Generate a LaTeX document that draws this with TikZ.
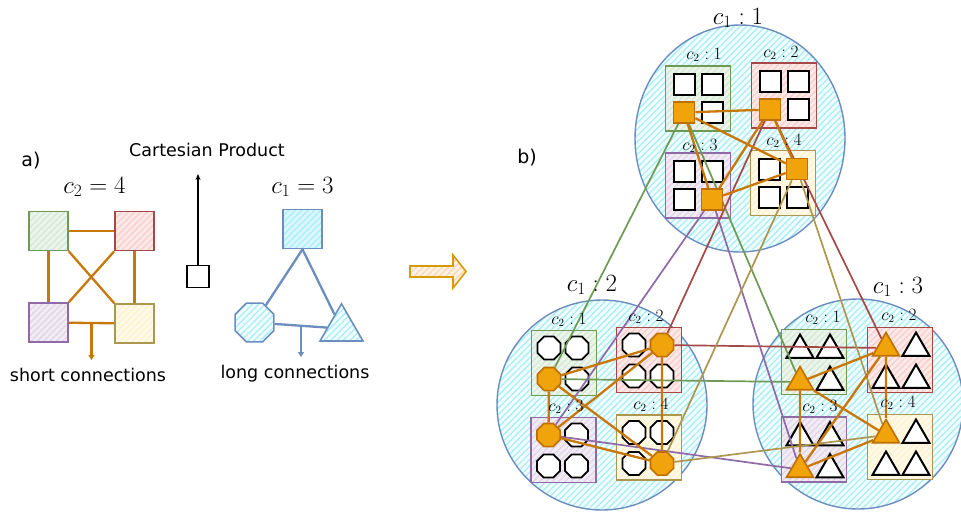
\documentclass[tikz,border=0pt]{standalone}
\usepackage{fontspec}
\newfontfamily\sketch{DejaVu Sans}
\usetikzlibrary{shapes.geometric,patterns.meta,arrows.meta,calc}
\definecolor{gS}{HTML}{6E9A55}\definecolor{gF}{HTML}{D5E8D4}
\definecolor{rS}{HTML}{A64845}\definecolor{rF}{HTML}{F8CECC}
\definecolor{pS}{HTML}{8F6AA6}\definecolor{pF}{HTML}{E1D5E7}
\definecolor{yS}{HTML}{AD9650}\definecolor{yF}{HTML}{FFF2CC}
\definecolor{bS}{HTML}{6C8EBF}\definecolor{cyH}{HTML}{ABEEF8}\definecolor{cyF}{HTML}{F1FDFE}
\definecolor{oF}{HTML}{F0A30A}\definecolor{oS}{HTML}{BD7000}\definecolor{oE}{HTML}{C8780A}
\definecolor{arF}{HTML}{FFE6CC}\definecolor{arS}{HTML}{D79B00}
\pgfdeclarelayer{boxes}\pgfdeclarelayer{edges}\pgfsetlayers{boxes,edges,main}
\tikzset{
  hatch/.style 2 args={preaction={fill=#1}, pattern={Lines[angle=45,distance=4.5pt,line width=1.3pt]}, pattern color=#2},
  bigc/.style={ellipse, draw=bS, line width=1.4pt, hatch={cyF}{cyH}, inner sep=0},
  cbox/.style 2 args={rectangle, draw=#1, line width=1.6pt, hatch={#2!45!white}{#2}, minimum size=65pt, inner sep=0},
  lbox/.style 2 args={rectangle, draw=#1, line width=1.6pt, hatch={#2!45!white}{#2}, minimum size=39pt, inner sep=0},
  wsq/.style={rectangle, draw=black, line width=2pt, fill=white, minimum size=21pt, inner sep=0},
  osq/.style={wsq, draw=oS, fill=oF, line width=1.6pt},
  woct/.style={regular polygon, regular polygon sides=8, draw=black, line width=1.8pt, fill=white, minimum size=25pt, inner sep=0},
  ooct/.style={woct, draw=oS, fill=oF, line width=1.6pt},
  wtri/.style={regular polygon, regular polygon sides=3, draw=black, line width=2pt, fill=white, minimum size=31pt, inner sep=0},
  otri/.style={wtri, draw=oS, fill=oF, line width=1.6pt},
  oedge/.style={draw=oE, line width=2.3pt},
  bedge/.style={draw=bS, line width=2.3pt},
  lline/.style={line width=1.7pt},
  sk/.style={font=\sketch\fontsize{17.5}{20}\selectfont, inner sep=0},
  mbig/.style={font=\fontsize{23}{26}\selectfont, inner sep=0},
  msmall/.style={font=\fontsize{16}{18}\selectfont, inner sep=0},
}
\begin{document}
\begin{tikzpicture}[x=1pt,y=-1pt]
\useasboundingbox (0,0) rectangle (961,512);
% ---------- part a ----------
\node[sk, font=\sketch\fontsize{19}{22}\selectfont] (ta) at (31,161) {a)};
\node[mbig] (tc2) at (94.5,187) {$c_2=4$};
\node[mbig] (tc1) at (302.5,187) {$c_1=3$};
\node[sk] (tcp) at (207,150) {Cartesian Product};
\node[sk] (tsc) at (88,375) {short connections};
\node[sk] (tlc) at (295,374) {long connections};

\node[lbox={gS}{gF}] (lg) at (48.5,231) {};
\node[lbox={rS}{rF}] (lr) at (134.5,231) {};
\node[lbox={pS}{pF}] (lp) at (48.5,322.5) {};
\node[lbox={yS}{yF}] (ly) at (134.5,323.5) {};
\draw[oedge] (lg) -- (lr);
\draw[oedge] (lg) -- (lp);
\draw[oedge] (lr) -- (ly);
\draw[oedge] (lp) -- (ly);
\draw[oedge] (lg.south east) -- (ly.north west);
\draw[oedge] (lr.south west) -- (lp.north east);
\coordinate (sm) at ($(lp.east)!0.5!(ly.west)$);
\coordinate (se) at (90,360);
\draw[oedge, -{Triangle[length=5pt,width=6pt]}] (sm) -- (sm |- se);

\node[draw=black, line width=1.8pt, minimum size=22pt, inner sep=0] (cp) at (198,276.5) {};
\coordinate (cpe) at (198,174);
\draw[line width=1.8pt, -{Stealth[length=6pt,width=5pt]}] (cp) -- (cpe);

\node[lbox={bS}{cyH}] (bs) at (302.5,229) {};
\node[regular polygon, regular polygon sides=8, minimum size=42pt, inner sep=0, draw=bS, line width=1.6pt, hatch={cyF}{cyH}] (bo) at (254.5,322.5) {};
\node[regular polygon, regular polygon sides=3, minimum size=49.6pt, inner sep=0, draw=bS, line width=1.6pt, hatch={cyF}{cyH}] (bt) at (341.5,328.6) {};
\begin{pgfonlayer}{edges}
\draw[bedge] (bs.south) -- (bo);
\draw[bedge] (bs.south) -- (bt);
\draw[bedge] (bo) -- (bt);
\end{pgfonlayer}
\coordinate (lm) at (301,325);
\coordinate (le) at (301,357);
\draw[bedge, -{Triangle[length=5pt,width=6pt]}] (lm) -- (le);

% big arrow
\path[draw=arS, line width=1.6pt, hatch={arF!50!white}{arF!85!orange}] (410,266) -- (453,266) -- (453,255) -- (466,271.5) -- (453,288) -- (453,277) -- (410,277) -- cycle;

% ---------- part b ----------
\node[sk, font=\sketch\fontsize{19}{22}\selectfont] (tb) at (527,158) {b)};
\begin{pgfonlayer}{boxes}
\node[bigc, minimum width=210pt, minimum height=227pt] (C1) at (740,138.5) {};
\node[bigc, minimum width=210pt, minimum height=210pt] (C2) at (602,405) {};
\node[bigc, minimum width=210pt, minimum height=210pt] (C3) at (858,404) {};

\node[cbox={gS}{gF}] (b1g) at (698,98.5) {};
\node[cbox={rS}{rF}] (b1r) at (784,95.5) {};
\node[cbox={pS}{pF}] (b1p) at (698,185.5) {};
\node[cbox={yS}{yF}] (b1y) at (783,183) {};
\node[cbox={gS}{gF}] (b2g) at (564,363) {};
\node[cbox={rS}{rF}] (b2r) at (649,360) {};
\node[cbox={pS}{pF}] (b2p) at (563.5,450) {};
\node[cbox={yS}{yF}] (b2y) at (649,447.5) {};
\node[cbox={gS}{gF}] (b3g) at (814,362) {};
\node[cbox={rS}{rF}] (b3r) at (900,360) {};
\node[cbox={pS}{pF}] (b3p) at (814,449.5) {};
\node[cbox={yS}{yF}] (b3y) at (900,447) {};

\foreach \bx/\ob in {b1g/3,b1r/3,b1p/4,b1y/2}
  \foreach \dx/\dy [count=\i] in {-14/-14,14/-14,-14/14,14/14}
    {\ifnum\i=\ob\else\node[wsq] (\bx-w\i) at ($(\bx)+(\dx,\dy)$) {};\fi}
\foreach \bx/\ob in {b2g/3,b2r/2,b2p/1,b2y/4}
  \foreach \dx/\dy [count=\i] in {-15/-15,13/-15,-15/16,13/16}
    {\ifnum\i=\ob\else\node[woct] (\bx-w\i) at ($(\bx)+(\dx,\dy)$) {};\fi}
\foreach \bx/\ob in {b3g/3,b3r/1,b3p/3,b3y/1}
  \foreach \dx/\dy [count=\i] in {-14/-12,16/-12,-14/20,16/20}
    {\ifnum\i=\ob\else\node[wtri] (\bx-w\i) at ($(\bx)+(\dx,\dy)$) {};\fi}
\end{pgfonlayer}

\node[mbig] (L1) at (738,18) {$c_1:1$};
\node[mbig] (L2) at (592,285) {$c_1:2$};
\node[mbig] (L3) at (898,287) {$c_1:3$};
\node[msmall] (l1g) at (704,55) {$c_2:1$};
\node[msmall] (l1r) at (781,53) {$c_2:2$};
\node[msmall] (l1p) at (700,146) {$c_2:3$};
\node[msmall] (l1y) at (784,141) {$c_2:4$};
\node[msmall] (l2g) at (569,320) {$c_2:1$};
\node[msmall] (l2r) at (646,317) {$c_2:2$};
\node[msmall] (l2p) at (566,407) {$c_2:3$};
\node[msmall] (l2y) at (651,405) {$c_2:4$};
\node[msmall] (l3g) at (823,318) {$c_2:1$};
\node[msmall] (l3r) at (899,316) {$c_2:2$};
\node[msmall] (l3p) at (820,407) {$c_2:3$};
\node[msmall] (l3y) at (898,403) {$c_2:4$};

% orange nodes
\node[osq] (o1g) at ($(b1g)+(-14,14)$) {};
\node[osq] (o1r) at ($(b1r)+(-14,14)$) {};
\node[osq] (o1p) at ($(b1p)+(14,14)$) {};
\node[osq] (o1y) at ($(b1y)+(14,-14)$) {};
\node[ooct] (o2g) at ($(b2g)+(-15,16)$) {};
\node[ooct] (o2r) at ($(b2r)+(13,-15)$) {};
\node[ooct] (o2p) at ($(b2p)+(-15,-15)$) {};
\node[ooct] (o2y) at ($(b2y)+(13,16)$) {};
\node[otri] (o3g) at ($(b3g)+(-14,20)$) {};
\node[otri] (o3r) at ($(b3r)+(-14,-12)$) {};
\node[otri] (o3p) at ($(b3p)+(-14,20)$) {};
\node[otri] (o3y) at ($(b3y)+(-14,-12)$) {};

\begin{pgfonlayer}{edges}
\draw[lline, draw=gS] (o1g) -- (o2g) (o1g) -- (o3g) (o2g) -- (o3g);
\draw[lline, draw=rS] (o1r) -- (o2r) (o1r) -- (o3r) (o2r) -- (o3r);
\draw[lline, draw=pS] (o1p) -- (o2p) (o1p) -- (o3p) (o2p) -- (o3p);
\draw[lline, draw=yS] (o1y) -- (o2y) (o1y) -- (o3y) (o2y) -- (o3y);
\foreach \cl in {1,2,3}
  \draw[oedge] (o\cl g) -- (o\cl r) (o\cl g) -- (o\cl p) (o\cl g) -- (o\cl y)
               (o\cl r) -- (o\cl p) (o\cl r) -- (o\cl y) (o\cl p) -- (o\cl y);
\end{pgfonlayer}
\end{tikzpicture}
\end{document}
